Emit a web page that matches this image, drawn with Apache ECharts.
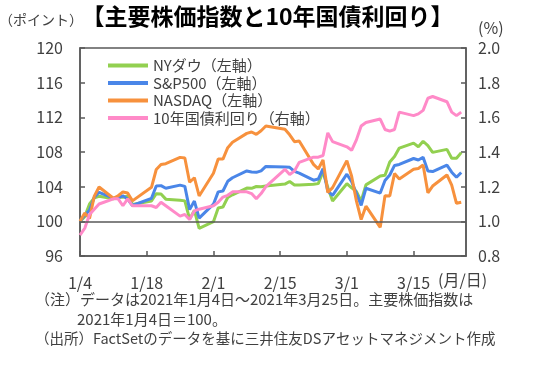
<!DOCTYPE html>
<html><head><meta charset="utf-8">
<script src="https://cdn.jsdelivr.net/npm/echarts@6/dist/echarts.min.js"></script>
<style>html,body{margin:0;padding:0;background:#fff}#c{width:535px;height:372px}</style>
</head><body><div id="c"></div>
<script>
const dates = [
 '2021-01-04','2021-01-05','2021-01-06','2021-01-07','2021-01-08','2021-01-11','2021-01-12','2021-01-13','2021-01-14','2021-01-15',
 '2021-01-19','2021-01-20','2021-01-21','2021-01-22','2021-01-25','2021-01-26','2021-01-27','2021-01-28','2021-01-29',
 '2021-02-01','2021-02-02','2021-02-03','2021-02-04','2021-02-05','2021-02-08','2021-02-09','2021-02-10','2021-02-11','2021-02-12',
 '2021-02-16','2021-02-17','2021-02-18','2021-02-19','2021-02-22','2021-02-23','2021-02-24','2021-02-25','2021-02-26',
 '2021-03-01','2021-03-02','2021-03-03','2021-03-04','2021-03-05','2021-03-08','2021-03-09','2021-03-10','2021-03-11','2021-03-12',
 '2021-03-15','2021-03-16','2021-03-17','2021-03-18','2021-03-19','2021-03-22','2021-03-23','2021-03-24','2021-03-25'
];
const dow = [100,100.55,102.00,102.71,102.89,102.60,102.80,102.77,102.94,101.95,
 102.34,103.19,103.15,102.56,102.44,102.36,100.26,101.26,99.20,
 99.96,101.53,101.65,102.75,103.06,103.84,103.81,104.02,103.99,104.08,
 104.30,104.60,104.20,104.20,104.29,104.35,105.75,103.90,102.35,
 104.34,103.86,103.46,102.32,104.21,105.22,105.32,106.86,107.48,108.45,
 109.03,108.61,109.24,108.73,107.96,108.30,107.28,107.27,107.93];
const sp500 = [100,100.71,101.28,102.79,103.35,102.67,102.72,102.95,102.56,101.83,
 102.66,104.08,104.12,103.81,104.18,104.03,101.35,102.34,100.37,
 101.98,103.40,103.50,104.62,105.03,105.81,105.69,105.65,105.83,106.33,
 106.27,106.23,105.76,105.57,104.75,104.88,106.07,103.48,102.99,
 105.44,104.58,103.22,101.83,103.82,103.26,104.72,105.35,106.45,106.56,
 107.25,107.08,107.39,105.80,105.74,106.48,105.67,105.09,105.64];
const nasdaq = [100,100.95,100.33,102.91,103.96,102.66,102.95,103.39,103.26,102.36,
 103.93,105.98,106.56,106.65,107.38,107.31,104.51,105.03,102.93,
 105.55,107.20,107.18,108.50,109.12,110.15,110.31,110.03,110.45,111.00,
 110.62,109.98,109.19,109.26,106.57,106.04,107.08,103.32,103.89,
 107.01,105.20,102.36,100.20,101.75,99.30,102.96,102.92,105.51,104.89,
 106.00,106.09,106.51,103.29,104.07,105.35,104.17,102.08,102.20];
const yield10 = [0.92,0.96,1.04,1.07,1.10,1.13,1.13,1.09,1.13,1.09,
 1.09,1.08,1.11,1.09,1.03,1.04,1.01,1.06,1.07,
 1.09,1.11,1.14,1.15,1.17,1.17,1.16,1.13,1.16,1.20,
 1.30,1.27,1.29,1.34,1.37,1.37,1.38,1.51,1.46,
 1.43,1.41,1.47,1.55,1.57,1.59,1.53,1.52,1.53,1.63,
 1.61,1.62,1.64,1.71,1.72,1.69,1.63,1.61,1.63];
const xTickLabels = ['1/4','1/18','2/1','2/15','3/1','3/15'];
const seriesNames = ['NYダウ（左軸）','S&P500（左軸）','NASDAQ（左軸）','10年国債利回り（右軸）'];
const colors = ['#92D050','#4A86E8','#F7913D','#FF8AC8'];

const base = Date.UTC(2021,0,4);
const dayOff = s => { const p = s.split('-').map(Number); return (Date.UTC(p[0],p[1]-1,p[2]) - base)/86400000; };
const xs = dates.map(dayOff);
const pair = arr => arr.map((v,i)=>[xs[i], v]);

const FONT = '"Noto Sans CJK JP", sans-serif';
const TXT = '#404040';
const AX = '#595959';
const chart = echarts.init(document.getElementById('c'), null, {renderer:'canvas'});
const mkSeries = (name, data, color, yIdx, extra) => Object.assign({
  name, type:'line', data, yAxisIndex:yIdx, symbol:'none', showSymbol:false,
  lineStyle:{color, width:3}, itemStyle:{color}, animation:false
}, extra||{});

chart.setOption({
  animation:false,
  textStyle:{fontFamily:FONT},
  grid:{left:80, top:48, width:386, height:208, show:true, borderColor:AX, borderWidth:1.5, backgroundColor:'transparent'},
  legend:{
    orient:'vertical', left:103, top:52, icon:'rect', itemWidth:40, itemHeight:4, itemGap:0.5,
    textStyle:{fontSize:15, color:TXT, fontFamily:FONT, lineHeight:17},
    data:seriesNames
  },
  xAxis:{
    type:'value', min:0, max:81, interval:14,
    axisLine:{show:true, lineStyle:{color:AX, width:1.5}},
    axisTick:{show:true, inside:true, length:5, lineStyle:{color:AX, width:1.5}},
    axisLabel:{fontSize:16, color:TXT, margin:19, showMaxLabel:false,
      formatter: v => (v % 14 === 0 && xTickLabels[v/14] !== undefined) ? xTickLabels[v/14] : ''},
    splitLine:{show:false}
  },
  yAxis:[
    {type:'value', min:96, max:120, interval:4, position:'left',
     axisLine:{show:true, lineStyle:{color:AX, width:1.5}},
     axisTick:{show:true, inside:true, length:5, lineStyle:{color:AX, width:1.5}},
     axisLabel:{fontSize:16, color:TXT, margin:17},
     splitLine:{show:false}},
    {type:'value', min:0.8, max:2.0, interval:0.2, position:'right',
     axisLine:{show:true, lineStyle:{color:AX, width:1.5}},
     axisTick:{show:true, inside:true, length:5, lineStyle:{color:AX, width:1.5}},
     axisLabel:{fontSize:16, color:TXT, margin:12, formatter: v => v.toFixed(1)},
     splitLine:{show:false}}
  ],
  series:[
    mkSeries(seriesNames[0], pair(dow), colors[0], 0, {
      markLine:{silent:true, symbol:['none','none'], label:{show:false},
        lineStyle:{color:AX, width:1.5, type:'solid'}, data:[{yAxis:100}], animation:false}
    }),
    mkSeries(seriesNames[1], pair(sp500), colors[1], 0),
    mkSeries(seriesNames[2], pair(nasdaq), colors[2], 0),
    mkSeries(seriesNames[3], pair(yield10), colors[3], 1)
  ],
  graphic:[
    {type:'text', left:'center', top:5, style:{text:'【主要株価指数と10年国債利回り】', font:'bold 23px '+FONT, fill:'#000'}},
    {type:'text', left:-1, top:13, style:{text:'（ポイント）', font:'14px '+FONT, fill:TXT}},
    {type:'text', left:478, top:20, style:{text:'(%)', font:'16px '+FONT, fill:TXT}},
    {type:'text', left:438, top:272, style:{text:'(月/日)', font:'16px '+FONT, fill:TXT}},
    {type:'text', left:35, top:292, style:{text:'（注）データは2021年1月4日～2021年3月25日。主要株価指数は', font:'15px '+FONT, fill:TXT}},
    {type:'text', left:77, top:312, style:{text:'2021年1月4日＝100。', font:'15px '+FONT, fill:TXT}},
    {type:'text', left:35, top:331, style:{text:'（出所）FactSetのデータを基に三井住友DSアセットマネジメント作成', font:'14.5px '+FONT, fill:TXT}}
  ]
});
</script></body></html>
